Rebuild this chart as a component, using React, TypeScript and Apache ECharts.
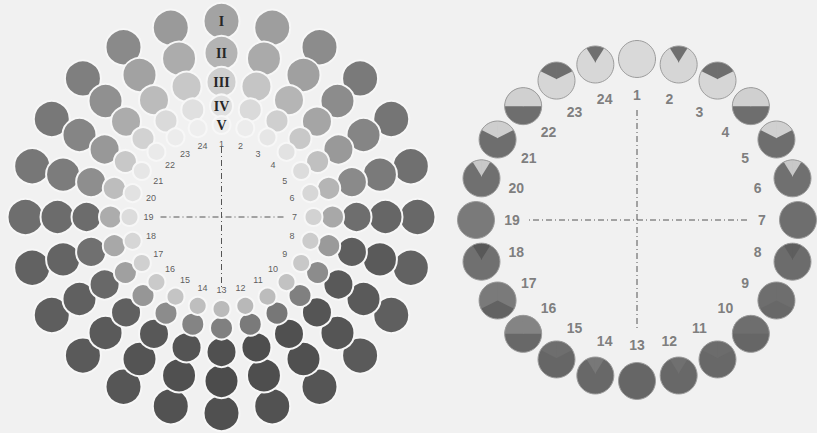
import React, { useEffect, useRef } from "react";
import * as echarts from "echarts";

// ---- data ----
const hours = [1, 2, 3, 4, 5, 6, 7, 8, 9, 10, 11, 12, 13, 14, 15, 16, 17, 18, 19, 20, 21, 22, 23, 24];
const ringNames = ["I", "II", "III", "IV", "V"];
// radial level of each ring (radius-axis units)
const ringLevels = [196, 164, 135, 111, 92];
// grey tone (0 = black, 255 = white) of each circle, hours 1..24
const toneRingI = [163, 158, 140, 122, 117, 112, 104, 98, 95, 90, 85, 82, 80, 82, 86, 90, 94, 98, 110, 119, 120, 127, 138, 154];
const toneRingII = [180, 170, 160, 140, 133, 122, 102, 90, 90, 85, 80, 78, 76, 80, 84, 90, 96, 100, 108, 124, 133, 144, 162, 172];
const toneRingIII = [207, 197, 181, 165, 153, 138, 110, 94, 89, 85, 80, 78, 80, 84, 88, 96, 104, 112, 108, 142, 152, 172, 187, 200];
const toneRingIV = [224, 218, 207, 200, 192, 181, 168, 154, 140, 128, 119, 122, 128, 132, 140, 150, 160, 168, 172, 189, 200, 210, 218, 224];
const toneRingV = [238, 236, 230, 226, 220, 215, 210, 204, 200, 194, 188, 184, 186, 190, 196, 202, 208, 214, 220, 226, 230, 234, 236, 238];
const ringTones = [toneRingI, toneRingII, toneRingIII, toneRingIV, toneRingV];

// right diagram: lower (base) tone, upper-part tone, and phase shape of the upper part
const rightLevel = 161;
const rightBaseTone = [217, 214, 214, 110, 110, 112, 110, 108, 104, 102, 104, 104, 102, 104, 102, 104, 98, 112, 122, 112, 110, 110, 214, 215];
const rightTopTone = [217, 112, 110, 208, 208, 200, 110, 94, 110, 110, 108, 112, 102, 120, 110, 132, 122, 88, 122, 200, 206, 208, 110, 112];
const rightPhase = ["none", "tri", "cap", "half", "cap", "tri", "none", "tri", "ridge", "half", "cap", "tri", "none", "tri", "cap", "half", "ridge", "tri", "none", "tri", "cap", "half", "cap", "tri"];

// ---- helpers ----
const grey = (v: number) => `rgb(${v},${v},${v})`;
const phaseGeom: Record<string, { a: number; s: number } | null> = {
  none: null,
  tri: { a: -0.12, s: 1.6 },
  cap: { a: -0.08, s: 0.5 },
  half: { a: 0, s: 0 },
  ridge: { a: 0.0, s: -0.5 },
};

type P = [number, number];
function clip(poly: P[], f: (p: P) => number): P[] {
  const out: P[] = [];
  const n = poly.length;
  for (let i = 0; i < n; i++) {
    const cur = poly[i];
    const prev = poly[(i - 1 + n) % n];
    const fc = f(cur);
    const fp = f(prev);
    const inter = (): P => {
      const t = fp / (fp - fc);
      return [prev[0] + t * (cur[0] - prev[0]), prev[1] + t * (cur[1] - prev[1])];
    };
    if (fc <= 0) {
      if (fp > 0) out.push(inter());
      out.push(cur);
    } else if (fp <= 0) {
      out.push(inter());
    }
  }
  return out;
}
const unitCircle: P[] = Array.from({ length: 96 }, (_, i) => {
  const t = (i / 96) * Math.PI * 2;
  return [Math.cos(t), Math.sin(t)] as P;
});
function topRegion(a: number, s: number): P[][] {
  const eps = 0.02;
  const left = clip(clip(unitCircle, (p) => p[0] - eps), (p) => p[1] - (a + s * p[0]));
  const right = clip(clip(unitCircle, (p) => -eps - p[0]), (p) => p[1] - (a - s * p[0]));
  return [left, right].filter((q) => q.length > 2);
}

const hiddenAxis = {
  axisLine: { show: false },
  axisTick: { show: false },
  axisLabel: { show: false },
  splitLine: { show: false },
};

export default function App() {
  const ref = useRef<HTMLDivElement>(null);
  useEffect(() => {
    if (!ref.current) return;
    const chart = echarts.init(ref.current, undefined, { renderer: "svg" });

    const ringSizes = [36, 34, 30, 23, 18];
    const leftSeries: any[] = ringNames.map((name, ri) => ({
      type: "scatter",
      name,
      coordinateSystem: "polar",
      polarIndex: 0,
      silent: true,
      symbol: "circle",
      symbolSize: ringSizes[ri],
      z: 2 + ri,
      itemStyle: { borderColor: "#f7f7f7", borderWidth: 2, opacity: 1 },
      data: hours.map((h, hi) => ({
        value: [ringLevels[ri], h - 1],
        itemStyle: { color: grey(ringTones[ri][hi]) },
        label:
          h === 1
            ? {
                show: true,
                position: "inside",
                formatter: name,
                color: "#262626",
                fontFamily: "Liberation Serif",
                fontWeight: "bold",
                fontSize: 14,
              }
            : { show: false },
      })),
    }));

    const hourLabelSeries = (polarIndex: number, level: number, fontSize: number, color: string, weight: string) => ({
      type: "scatter",
      coordinateSystem: "polar",
      polarIndex,
      silent: true,
      symbolSize: 1,
      z: 10,
      itemStyle: { color: "rgba(0,0,0,0)" },
      label: {
        show: true,
        position: "inside",
        formatter: (p: any) => String(hours[p.dataIndex]),
        color,
        fontFamily: "Liberation Sans",
        fontWeight: weight,
        fontSize,
      },
      data: hours.map((h) => [level, h - 1]),
    });

    const crossLine = (polarIndex: number, level: number, a0: number, a1: number) => ({
      type: "line",
      coordinateSystem: "polar",
      polarIndex,
      silent: true,
      symbol: "none",
      z: 1,
      lineStyle: { color: "#555", width: 1, type: [6, 3, 1, 3] },
      data: [
        [level, a0],
        [level, a1],
      ],
    });

    const rightCircles = {
      type: "custom",
      coordinateSystem: "polar",
      polarIndex: 1,
      silent: true,
      z: 5,
      data: hours.map((h) => [rightLevel, h - 1]),
      renderItem: (params: any, api: any) => {
        const i = params.dataIndex;
        const pt = api.coord([api.value(0), api.value(1)]);
        const R = 18.5;
        const children: any[] = [
          { type: "circle", shape: { cx: pt[0], cy: pt[1], r: R }, style: { fill: grey(rightBaseTone[i]) } },
        ];
        const g = phaseGeom[rightPhase[i]];
        if (g) {
          topRegion(g.a, g.s).forEach((poly) => {
            children.push({
              type: "polygon",
              shape: { points: poly.map((p) => [pt[0] + p[0] * R, pt[1] + p[1] * R]) },
              style: { fill: grey(rightTopTone[i]) },
            });
          });
        }
        children.push({
          type: "circle",
          shape: { cx: pt[0], cy: pt[1], r: R },
          style: { fill: "none", stroke: "#9c9c9c", lineWidth: 1 },
        });
        return { type: "group", children };
      },
    };

    chart.setOption({
      animation: false,
      backgroundColor: "#f1f1f1",
      polar: [
        { center: [221.5, 217], radius: 196 },
        { center: [637, 220], radius: 161 },
      ],
      angleAxis: [
        { polarIndex: 0, type: "value", min: 0, max: 24, startAngle: 90, clockwise: true, ...hiddenAxis },
        { polarIndex: 1, type: "value", min: 0, max: 24, startAngle: 90, clockwise: true, ...hiddenAxis },
      ],
      radiusAxis: [
        { polarIndex: 0, type: "value", min: 0, max: 196, ...hiddenAxis },
        { polarIndex: 1, type: "value", min: 0, max: 161, ...hiddenAxis },
      ],
      series: [
        crossLine(0, 62, 6, 18),
        crossLine(0, 70, 0, 12),
        crossLine(1, 110, 6, 18),
        crossLine(1, 110, 0, 12),
        ...leftSeries,
        hourLabelSeries(0, 73, 9, "#333333", "normal"),
        rightCircles,
        hourLabelSeries(1, 125, 14, "#606060", "bold"),
      ],
    });
    return () => chart.dispose();
  }, []);
  return <div ref={ref} style={{ position: "fixed", left: 0, top: 0, width: 817, height: 433 }} />;
}
